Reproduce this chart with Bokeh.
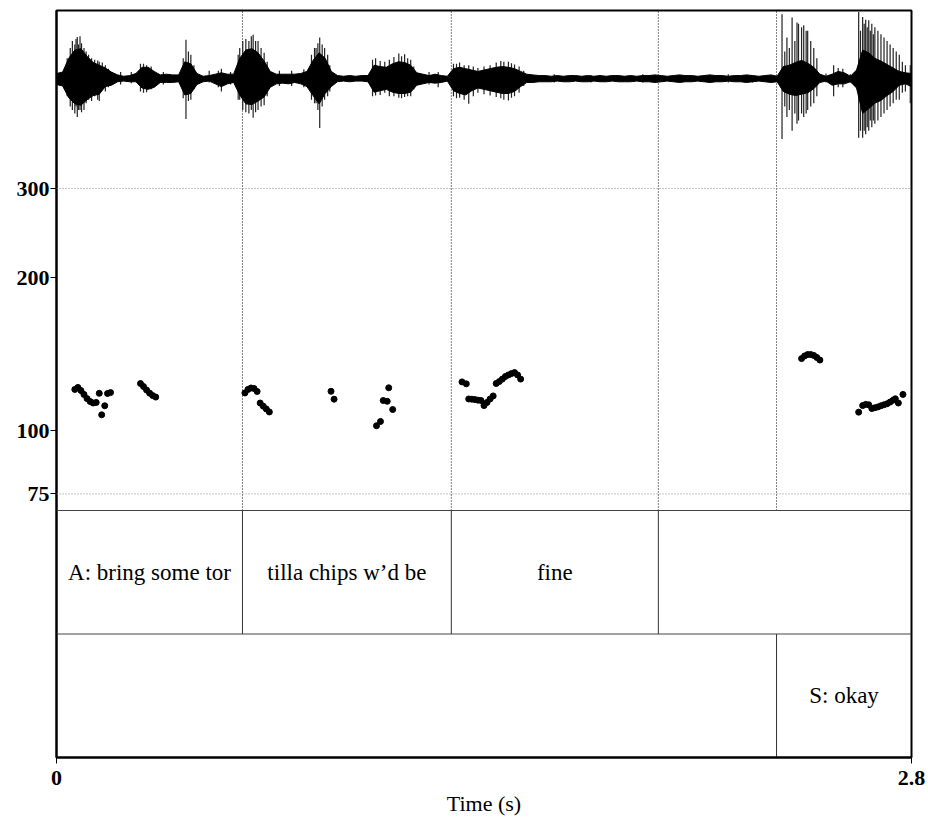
import numpy as np
from bokeh.plotting import figure
from bokeh.models import (Range1d, LogScale, LinearScale, LogAxis, FixedTicker,
                          Span, PrintfTickFormatter)
from bokeh.core.properties import value
from bokeh.embed import file_html
from bokeh.resources import INLINE

# ---------------- data ----------------
T_MAX = 2.8
wave_t = np.round(np.arange(0, 2.801, 0.02), 2)
# dense core of the waveform (relative amplitude, above / below zero)
wave_upper = [0.08, 0.10, 0.30, 0.42, 0.44, 0.33, 0.24, 0.20, 0.16, 0.10,
              0.06, 0.04, 0.05, 0.08, 0.17, 0.17, 0.11, 0.06, 0.07, 0.06,
              0.06, 0.25, 0.22, 0.08, 0.04, 0.05, 0.07, 0.09, 0.07, 0.07,
              0.30, 0.42, 0.44, 0.38, 0.26, 0.11, 0.07, 0.07, 0.07, 0.07,
              0.08, 0.11, 0.27, 0.38, 0.30, 0.11, 0.05, 0.04, 0.05, 0.04,
              0.05, 0.05, 0.20, 0.18, 0.17, 0.22, 0.25, 0.24, 0.20, 0.09,
              0.07, 0.05, 0.07, 0.05, 0.04, 0.15, 0.17, 0.15, 0.13, 0.11,
              0.13, 0.15, 0.17, 0.18, 0.17, 0.15, 0.11, 0.07, 0.06, 0.05,
              0.05, 0.04, 0.05, 0.04, 0.05, 0.05, 0.04, 0.05, 0.04, 0.05,
              0.04, 0.05, 0.05, 0.04,
              0.05, 0.04, 0.05, 0.05, 0.06, 0.05, 0.04, 0.05, 0.06, 0.05,
              0.05, 0.04, 0.05, 0.06, 0.05, 0.05, 0.04, 0.05, 0.05, 0.06,
              0.05, 0.04, 0.05, 0.06,
              0.04, 0.18, 0.20, 0.24, 0.27, 0.23, 0.17, 0.07, 0.04, 0.07,
              0.11, 0.09, 0.04, 0.13, 0.42, 0.38, 0.30, 0.26, 0.21, 0.16,
              0.11, 0.09, 0.08]
wave_lower = [0.08, 0.10, 0.27, 0.36, 0.38, 0.30, 0.24, 0.22, 0.11, 0.09,
              0.04, 0.03, 0.04, 0.04, 0.13, 0.15, 0.12, 0.05, 0.05, 0.05,
              0.04, 0.23, 0.21, 0.08, 0.04, 0.03, 0.07, 0.11, 0.07, 0.05,
              0.23, 0.36, 0.37, 0.32, 0.26, 0.12, 0.07, 0.06, 0.07, 0.05,
              0.07, 0.11, 0.24, 0.36, 0.21, 0.11, 0.04, 0.03, 0.04, 0.03,
              0.03, 0.04, 0.19, 0.17, 0.15, 0.19, 0.21, 0.21, 0.19, 0.09,
              0.07, 0.05, 0.06, 0.05, 0.03, 0.17, 0.21, 0.23, 0.17, 0.13,
              0.15, 0.17, 0.19, 0.21, 0.21, 0.18, 0.11, 0.05, 0.05, 0.04,
              0.04, 0.04, 0.03, 0.04, 0.04, 0.03, 0.04, 0.04, 0.03, 0.04,
              0.04, 0.03, 0.04, 0.04,
              0.04, 0.03, 0.04, 0.04, 0.05, 0.04, 0.03, 0.04, 0.05, 0.04,
              0.04, 0.03, 0.04, 0.05, 0.04, 0.04, 0.03, 0.04, 0.04, 0.05,
              0.04, 0.03, 0.04, 0.05,
              0.04, 0.18, 0.22, 0.24, 0.22, 0.20, 0.14, 0.05, 0.03, 0.09,
              0.07, 0.07, 0.04, 0.13, 0.50, 0.43, 0.35, 0.31, 0.24, 0.18,
              0.09, 0.07, 0.11]

# individual excursions (spikes) beyond the core
spike_t = [0.035, 0.045, 0.052, 0.060, 0.064, 0.068, 0.072, 0.077, 0.082, 0.090,
           0.097, 0.105, 0.115, 0.125, 0.135, 0.140, 0.150, 0.160, 0.170,
           0.210, 0.245,
           0.275, 0.285, 0.295, 0.310, 0.350,
           0.415, 0.424, 0.432, 0.440, 0.450,
           0.500, 0.530, 0.540, 0.570,
           0.595, 0.600, 0.610, 0.620, 0.630, 0.638, 0.644, 0.652, 0.660, 0.670,
           0.680, 0.690,
           0.730, 0.770, 0.810,
           0.835, 0.845, 0.850, 0.856, 0.862, 0.870, 0.878, 0.888, 0.895,
           1.035, 1.045, 1.060, 1.075, 1.090, 1.105, 1.121, 1.130, 1.140, 1.150,
           1.160, 1.170, 1.220, 1.250,
           1.300, 1.310, 1.320, 1.335, 1.350, 1.365, 1.380, 1.400, 1.420, 1.440,
           1.455, 1.465, 1.480, 1.490, 1.500, 1.515, 1.530,
           1.630, 1.750, 1.920, 2.040, 2.200, 2.280,
           2.376, 2.385, 2.392, 2.400, 2.409, 2.418, 2.425, 2.430, 2.440, 2.447,
           2.455, 2.460, 2.470, 2.480, 2.490,
           2.520, 2.545, 2.560, 2.575, 2.600, 2.615,
           2.627, 2.633, 2.640, 2.645, 2.650, 2.655, 2.660, 2.665, 2.670, 2.675,
           2.680, 2.690, 2.700, 2.710, 2.720, 2.730, 2.740, 2.750, 2.760, 2.770,
           2.780, 2.796]
spike_top = [0.30, 0.45, 0.55, 0.50, 0.58, 0.61, 0.50, 0.62, 0.52, 0.45,
             0.40, 0.35, 0.30, 0.28, 0.27, 0.25, 0.24, 0.20, 0.15,
             0.10, 0.10,
             0.22, 0.22, 0.20, 0.18, 0.10,
             0.30, 0.57, 0.40, 0.35, 0.20,
             0.12, 0.12, 0.15, 0.10,
             0.35, 0.45, 0.55, 0.58, 0.55, 0.62, 0.64, 0.55, 0.55, 0.45,
             0.38, 0.25,
             0.12, 0.12, 0.14,
             0.35, 0.45, 0.45, 0.52, 0.60, 0.50, 0.45, 0.35, 0.20,
             0.28, 0.30, 0.26, 0.25, 0.28, 0.32, 0.37, 0.33, 0.36, 0.30,
             0.28, 0.18, 0.10, 0.10,
             0.22, 0.22, 0.24, 0.20, 0.20, 0.18, 0.16, 0.18, 0.20, 0.24,
             0.26, 0.25, 0.25, 0.23, 0.21, 0.18, 0.12,
             0.07, 0.06, 0.07, 0.06, 0.07, 0.06,
             0.94, 0.40, 0.60, 0.45, 0.89, 0.55, 0.82, 0.80, 0.75, 0.78,
             0.70, 0.70, 0.55, 0.45, 0.30,
             0.08, 0.20, 0.16, 0.15, 0.07, 0.10,
             0.97, 0.70, 0.90, 0.80, 0.86, 0.75, 0.85, 0.70, 0.80, 0.65,
             0.75, 0.70, 0.65, 0.60, 0.55, 0.50, 0.45, 0.40, 0.35, 0.25,
             0.20, 0.20]
spike_bottom = [0.25, 0.40, 0.45, 0.50, 0.40, 0.55, 0.45, 0.45, 0.48, 0.45,
                0.35, 0.30, 0.32, 0.25, 0.30, 0.32, 0.15, 0.18, 0.12,
                0.08, 0.06,
                0.18, 0.20, 0.19, 0.15, 0.08,
                0.28, 0.58, 0.32, 0.30, 0.15,
                0.05, 0.12, 0.18, 0.08,
                0.30, 0.30, 0.45, 0.48, 0.50, 0.45, 0.56, 0.48, 0.45, 0.40,
                0.38, 0.25,
                0.10, 0.10, 0.12,
                0.30, 0.35, 0.35, 0.45, 0.71, 0.40, 0.30, 0.25, 0.18,
                0.25, 0.24, 0.23, 0.20, 0.25, 0.25, 0.27, 0.28, 0.26, 0.25,
                0.25, 0.15, 0.08, 0.12,
                0.25, 0.28, 0.27, 0.30, 0.36, 0.25, 0.20, 0.22, 0.24, 0.26,
                0.28, 0.30, 0.31, 0.27, 0.25, 0.20, 0.10,
                0.05, 0.05, 0.05, 0.04, 0.05, 0.05,
                0.87, 0.40, 0.55, 0.45, 0.75, 0.50, 0.65, 0.60, 0.50, 0.55,
                0.50, 0.45, 0.40, 0.35, 0.25,
                0.05, 0.25, 0.12, 0.12, 0.05, 0.10,
                0.85, 0.75, 0.85, 0.75, 0.80, 0.70, 0.75, 0.60, 0.70, 0.60,
                0.65, 0.60, 0.55, 0.50, 0.45, 0.40, 0.35, 0.30, 0.30, 0.20,
                0.18, 0.35]

pitch_t = [0.060, 0.070, 0.080, 0.090, 0.100, 0.110, 0.120, 0.130, 0.140, 0.148,
           0.158, 0.167, 0.177,
           0.275, 0.285, 0.295, 0.305, 0.315, 0.325,
           0.617, 0.627, 0.637, 0.647, 0.657, 0.667, 0.677, 0.687, 0.697,
           0.899, 0.909,
           1.048, 1.061, 1.070, 1.083, 1.088, 1.101,
           1.328, 1.342, 1.350, 1.360, 1.370, 1.380, 1.390, 1.400, 1.410, 1.420,
           1.430, 1.440, 1.450, 1.460, 1.470, 1.480, 1.490, 1.500, 1.510, 1.520,
           2.440, 2.450, 2.460, 2.470, 2.480, 2.490, 2.500,
           2.627, 2.640, 2.650, 2.660, 2.670, 2.680, 2.690, 2.700, 2.710, 2.720,
           2.730, 2.740, 2.747, 2.757, 2.772]
pitch_f = [120.5, 121.6, 119.9, 117.8, 115.6, 114.1, 113.3, 113.6, 118.4, 107.4,
           111.9, 118.3, 118.8,
           123.8, 122.1, 120.2, 118.5, 117.2, 116.4,
           118.6, 120.5, 121.3, 121.0, 119.4, 113.3, 111.7, 110.3, 108.8,
           119.5, 115.3,
           102.2, 104.2, 114.6, 114.2, 121.4, 110.0,
           124.7, 123.6, 115.4, 115.3, 115.1, 114.8, 114.6, 112.0, 113.6, 115.4,
           117.0, 123.8, 124.9, 126.3, 127.8, 128.7, 129.5, 130.1, 128.7, 126.3,
           138.6, 140.3, 141.2, 141.2, 140.6, 139.3, 137.7,
           108.7, 112.0, 112.6, 112.4, 110.5, 110.9, 111.3, 111.9, 112.4, 112.9,
           113.8, 114.8, 115.5, 113.3, 117.8]

pitch_ticks = [75, 100, 200, 300]
pitch_grid = [75, 300]

tier1_bounds = [0.0, 0.609, 1.293, 1.971, 2.8]
tier1_labels = ["A: bring some tor", "tilla chips w\u2019d be", "fine", ""]
tier2_bounds = [0.0, 2.358, 2.8]
tier2_labels = ["", "S: okay"]

# ---------------- layout ----------------
W, H = 928, 823
B_LEFT, B_RIGHT, B_TOP, B_BOTTOM = 56, 17, 10, 66
PLOT_H = H - B_TOP - B_BOTTOM          # 747
TIER_PX = 123.5
Y_TOP = PLOT_H / TIER_PX               # main range in tier units
PITCH_RANGE = (22.67, 673.0)
WAVE_RANGE = (-9.833, 0.993)
SERIF = "Liberation Serif"

p = figure(width=W, height=H, x_range=Range1d(0, T_MAX), y_range=Range1d(0, Y_TOP),
           output_backend="svg", toolbar_location=None, y_axis_location=None,
           min_border_left=B_LEFT, min_border_right=B_RIGHT,
           min_border_top=B_TOP, min_border_bottom=B_BOTTOM)
p.extra_y_ranges = {"pitch": Range1d(*PITCH_RANGE), "wave": Range1d(*WAVE_RANGE)}
p.extra_y_scales = {"pitch": LogScale(), "wave": LinearScale()}
p.xgrid.visible = False
p.ygrid.visible = False
p.outline_line_color = "black"
p.outline_line_width = 2
p.background_fill_color = "white"
p.border_fill_color = "white"

# pitch axis
yax = LogAxis(y_range_name="pitch", ticker=FixedTicker(ticks=pitch_ticks),
              formatter=PrintfTickFormatter(format="%d"))
yax.axis_line_width = 2
yax.major_tick_in = 0
yax.major_tick_out = 6
yax.minor_tick_line_color = None
yax.major_label_text_font = SERIF
yax.major_label_text_font_size = "22px"
yax.major_label_text_font_style = "bold"
yax.major_label_text_color = "black"
yax.major_label_standoff = 1
p.add_layout(yax, "left")

xax = p.xaxis[0]
xax.ticker = FixedTicker(ticks=[0, T_MAX])
xax.axis_line_width = 2
xax.major_tick_in = 0
xax.major_tick_out = 6
xax.minor_tick_line_color = None
xax.major_label_text_font = SERIF
xax.major_label_text_font_size = "22px"
xax.major_label_text_font_style = "bold"
xax.major_label_text_color = "black"
xax.major_label_standoff = 7
xax.axis_label = "Time (s)"
xax.axis_label_text_font = SERIF
xax.axis_label_text_font_size = "22px"
xax.axis_label_text_font_style = "normal"
xax.axis_label_text_color = "black"
xax.axis_label_standoff = 3

# horizontal pitch grid (dotted)
for g in pitch_grid:
    p.add_layout(Span(location=g, dimension="width", y_range_name="pitch",
                      line_color="#888888", line_width=1, line_dash="1 2"))

# tier separators
for yb in [1, 2]:
    p.add_layout(Span(location=yb, dimension="width", line_color="#444444", line_width=1))

# vertical dotted lines through waveform & pitch at all boundaries
inner = sorted(set(tier1_bounds[1:-1] + tier2_bounds[1:-1]))
p.segment(x0=inner, y0=[2] * len(inner), x1=inner, y1=[Y_TOP] * len(inner),
          line_color="black", line_width=1, line_dash="1 2")

# tier interval boundaries
b1 = tier1_bounds[1:-1]
p.segment(x0=b1, y0=[1] * len(b1), x1=b1, y1=[2] * len(b1), line_color="#333333", line_width=1)
b2 = tier2_bounds[1:-1]
p.segment(x0=b2, y0=[0] * len(b2), x1=b2, y1=[1] * len(b2), line_color="#333333", line_width=1)

# tier labels
mid1 = [(a + b) / 2 for a, b in zip(tier1_bounds[:-1], tier1_bounds[1:])]
mid2 = [(a + b) / 2 for a, b in zip(tier2_bounds[:-1], tier2_bounds[1:])]
for mids, labels, yy in [(mid1, tier1_labels, 1.5), (mid2, tier2_labels, 0.5)]:
    p.text(x=mids, y=[yy] * len(mids), text=labels, text_font=value(SERIF),
           text_font_size="23px", text_font_style="normal", text_align="center",
           text_baseline="middle", text_color="black")

# waveform
lo = [-v for v in wave_lower]
p.segment(x0=spike_t, y0=spike_top, x1=spike_t, y1=[-v for v in spike_bottom],
          y_range_name="wave", line_color="#222222", line_width=1.2)
p.varea(x=list(wave_t), y1=wave_upper, y2=lo, y_range_name="wave", fill_color="black")
p.line(x=list(wave_t), y=wave_upper, y_range_name="wave", line_color="black", line_width=1)
p.line(x=list(wave_t), y=lo, y_range_name="wave", line_color="black", line_width=1)

# pitch points
p.scatter(x=pitch_t, y=pitch_f, y_range_name="pitch", size=6,
          fill_color="black", line_color="black")

open("out.html", "w").write(file_html(p, INLINE))
